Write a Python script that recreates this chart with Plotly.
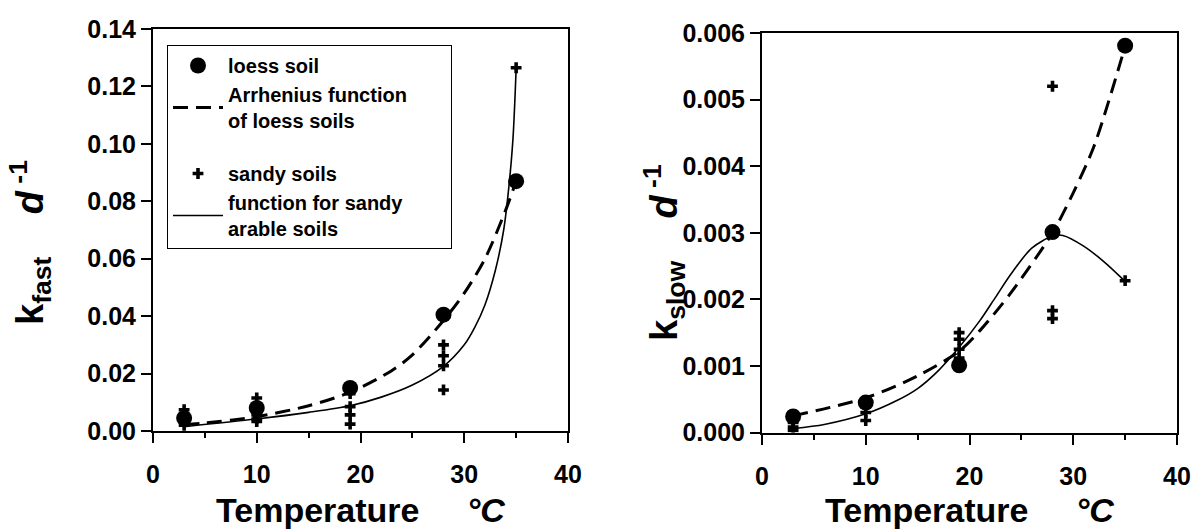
import plotly.graph_objects as go

# ---------------- data ----------------
temp_loess = [3, 10, 19, 28, 35]
kfast_loess = [0.0045, 0.0080, 0.0150, 0.0405, 0.0870]
kslow_loess = [0.00024, 0.00045, 0.00101, 0.00301, 0.00581]

temp_sandy_fast = [3, 3, 3, 3, 10, 10, 10, 10, 19, 19, 19, 19, 28, 28, 28, 28, 35]
kfast_sandy = [0.0074, 0.0050, 0.0035, 0.0020,
               0.0115, 0.0056, 0.0042, 0.0033,
               0.0130, 0.0085, 0.0056, 0.0024,
               0.0300, 0.0262, 0.0227, 0.0143,
               0.1265]

temp_sandy_slow = [3, 3, 3, 10, 10, 19, 19, 19, 19, 28, 28, 28, 35]
kslow_sandy = [0.00015, 0.00008, 0.00003,
               0.00030, 0.00018,
               0.00150, 0.00140, 0.00125, 0.00112,
               0.00520, 0.00183, 0.00171,
               0.00228]

# fitted curves
curve_t_fast_arr = [3, 5, 10, 15, 19, 23, 25, 28, 30, 32, 34, 35]
curve_k_fast_arr = [0.0022, 0.0028, 0.0050, 0.0088, 0.0135, 0.0210, 0.0265,
                    0.0385, 0.0480, 0.0600, 0.0770, 0.0870]

curve_t_fast_sandy = [3, 10, 15, 19, 22, 25, 28, 30, 31, 32, 33, 33.8, 34.3, 34.7, 35]
curve_k_fast_sandy = [0.0015, 0.0042, 0.0065, 0.0088, 0.0118, 0.0160, 0.0225,
                      0.0300, 0.0360, 0.0440, 0.0560, 0.0700, 0.0850, 0.1020, 0.1260]

curve_t_slow_arr = [3, 10, 15, 19, 21, 24, 28, 30, 32, 35]
curve_k_slow_arr = [0.00025, 0.00052, 0.00085, 0.00122, 0.00153, 0.0021,
                    0.0030, 0.0036, 0.0043, 0.0058]

curve_t_slow_sandy = [3, 6, 10, 13, 15, 17, 19, 21, 22.5, 24, 26, 28, 29, 31, 33, 35]
curve_k_slow_sandy = [0.00006, 0.00012, 0.00028, 0.00048, 0.00066, 0.00093, 0.00128,
                      0.00168, 0.00203, 0.00238, 0.00277, 0.00295, 0.00296, 0.00280,
                      0.00256, 0.00227]

x_ticks = [0, 10, 20, 30, 40]
yfast_ticks = [0.00, 0.02, 0.04, 0.06, 0.08, 0.10, 0.12, 0.14]
yslow_ticks = [0.000, 0.001, 0.002, 0.003, 0.004, 0.005, 0.006]

# ---------------- figure ----------------
FONT = "Arial, Liberation Sans, sans-serif"
nb = "\u00a0"
fig = go.Figure()

# left panel
fig.add_trace(go.Scatter(x=curve_t_fast_arr, y=curve_k_fast_arr, mode="lines",
                         line=dict(color="black", width=3, dash="15px,8px", shape="spline", smoothing=0.8),
                         name="Arrhenius function" + nb * 7 + "<br>of loess soils", legendgroup="a",
                         xaxis="x", yaxis="y"))
fig.add_trace(go.Scatter(x=curve_t_fast_sandy, y=curve_k_fast_sandy, mode="lines",
                         line=dict(color="black", width=1.6, shape="spline", smoothing=0.8),
                         name="function for sandy<br>arable soils", legendgroup="b",
                         xaxis="x", yaxis="y"))
fig.add_trace(go.Scatter(x=temp_loess, y=kfast_loess, mode="markers",
                         marker=dict(symbol="circle", size=16, color="black"),
                         name="loess soil", legendgroup="a", xaxis="x", yaxis="y"))
fig.add_trace(go.Scatter(x=temp_sandy_fast, y=kfast_sandy, mode="markers",
                         marker=dict(symbol="cross", size=9, color="black"),
                         name="sandy soils", legendgroup="b", xaxis="x", yaxis="y"))

# right panel
fig.add_trace(go.Scatter(x=curve_t_slow_arr, y=curve_k_slow_arr, mode="lines",
                         line=dict(color="black", width=3, dash="15px,8px", shape="spline", smoothing=0.8),
                         showlegend=False, xaxis="x2", yaxis="y2"))
fig.add_trace(go.Scatter(x=curve_t_slow_sandy, y=curve_k_slow_sandy, mode="lines",
                         line=dict(color="black", width=1.6, shape="spline", smoothing=0.8),
                         showlegend=False, xaxis="x2", yaxis="y2"))
fig.add_trace(go.Scatter(x=temp_loess, y=kslow_loess, mode="markers",
                         marker=dict(symbol="circle", size=16, color="black"),
                         showlegend=False, xaxis="x2", yaxis="y2"))
fig.add_trace(go.Scatter(x=temp_sandy_slow, y=kslow_sandy, mode="markers",
                         marker=dict(symbol="cross", size=9, color="black"),
                         showlegend=False, xaxis="x2", yaxis="y2"))

tickfont = dict(family=FONT, size=25, color="black")

def xaxis_style(domain, anchor):
    return dict(domain=domain, anchor=anchor, range=[0, 40], tickvals=x_ticks,
                ticktext=[f"<b>{v}</b>" for v in x_ticks],
                showline=True, linecolor="black", linewidth=2, mirror=True,
                ticks="outside", ticklen=10, tickwidth=2, tickcolor="black",
                minor=dict(dtick=5, ticks="outside", ticklen=5, tickwidth=2, tickcolor="black"),
                ticklabelstandoff=10, automargin=False,
                showgrid=False, zeroline=False, tickfont=tickfont, fixedrange=True)

def yaxis_style(domain, anchor, rng, vals, fmt):
    return dict(domain=domain, anchor=anchor, range=rng, tickvals=vals,
                ticktext=[f"<b>{fmt.format(v)}</b>" for v in vals],
                showline=True, linecolor="black", linewidth=2, mirror=True,
                ticks="outside", ticklen=10, tickwidth=2, tickcolor="black",
                automargin=False,
                showgrid=False, zeroline=False, tickfont=tickfont, fixedrange=True)

W, H = 1200, 531
fig.update_layout(
    width=W, height=H, margin=dict(l=0, r=0, t=0, b=0, autoexpand=False),
    paper_bgcolor="white", plot_bgcolor="white",
    font=dict(family=FONT, color="black"),
    xaxis=xaxis_style([153 / W, 568 / W], "y"),
    yaxis=yaxis_style([1 - 431 / H, 1 - 29 / H], "x", [0, 0.14], yfast_ticks, "{:.2f}"),
    xaxis2=xaxis_style([762 / W, 1177 / W], "y2"),
    yaxis2=yaxis_style([1 - 432.5 / H, 1 - 33 / H], "x2", [0, 0.006], yslow_ticks, "{:.3f}"),
    legend=dict(x=167 / W, y=1 - 45 / H, xanchor="left", yanchor="top",
                bordercolor="black", borderwidth=1, bgcolor="white",
                font=dict(family=FONT, size=20, color="black"),
                traceorder="grouped", tracegroupgap=24, itemwidth=50),
    showlegend=True,
)

# order legend entries: loess soil, Arrhenius, sandy soils, function
fig.data[2].legendrank = 1
fig.data[0].legendrank = 2
fig.data[3].legendrank = 3
fig.data[1].legendrank = 4
for tr in fig.data[:4]:
    tr.name = "<b>" + tr.name.replace("<br>", "</b><br><b>") + "</b>"

for cx in [(153 + 568) / 2, (762 + 1177) / 2]:
    fig.add_annotation(xref="paper", yref="paper", x=cx / W, y=1 - 510 / H,
                       text=f"<b>Temperature{nb*5}<i>°C</i></b>",
                       showarrow=False, xanchor="center", yanchor="middle",
                       font=dict(family=FONT, size=34, color="black"))

fig.add_annotation(xref="paper", yref="paper", x=30 / W, y=1 - 243 / H, textangle=-90,
                   text=f"<b>k<sub>fast</sub>{nb*4}<i>d</i><sup> -1</sup></b>",
                   showarrow=False, xanchor="center", yanchor="middle",
                   font=dict(family=FONT, size=38, color="black"))
fig.add_annotation(xref="paper", yref="paper", x=664 / W, y=1 - 253 / H, textangle=-90,
                   text=f"<b>k<sub>slow</sub>{nb*4}<i>d</i><sup> -1</sup></b>",
                   showarrow=False, xanchor="center", yanchor="middle",
                   font=dict(family=FONT, size=38, color="black"))

fig.write_html("out.html")
